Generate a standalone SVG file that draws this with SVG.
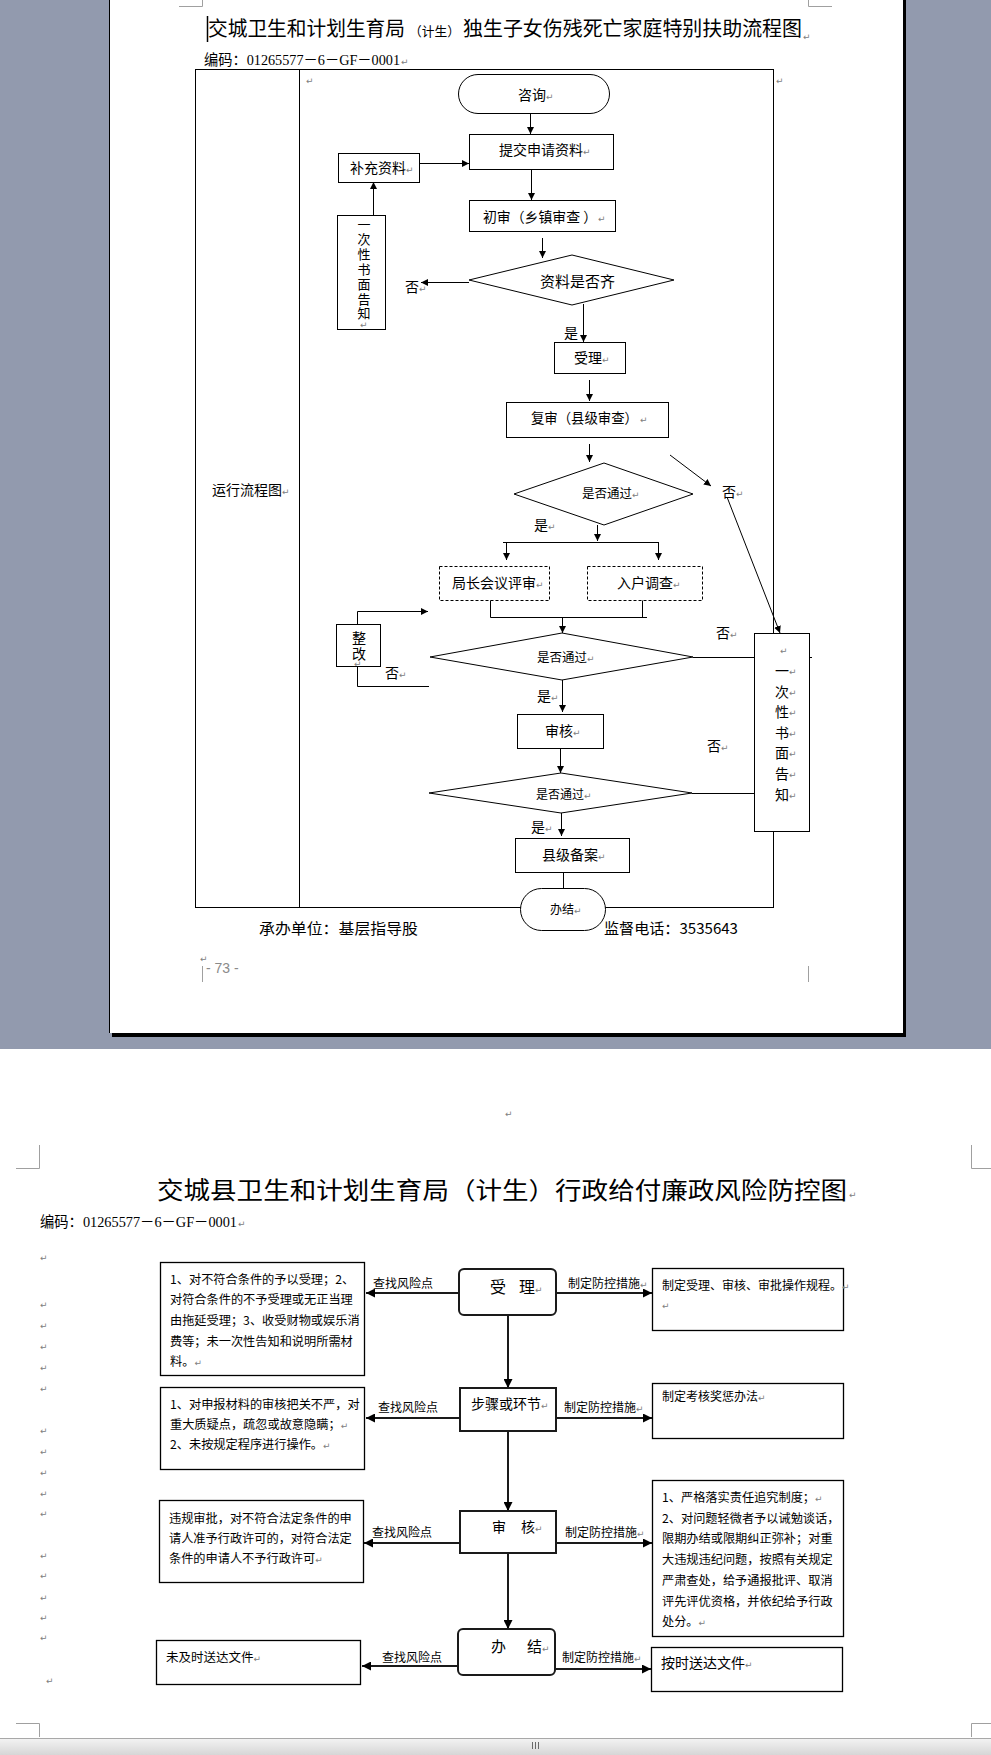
<svg xmlns="http://www.w3.org/2000/svg" width="991" height="1755" viewBox="0 0 991 1755">
<defs>
<style>
.c{font-family:"Noto Sans CJK SC","Liberation Sans",sans-serif;fill:#000}
.s{font-family:"Liberation Serif","Noto Sans CJK SC",serif;fill:#000}
.f14{font-size:14px}.f12{font-size:12px}.f125{font-size:12.5px}.f15{font-size:15px}.f122{font-size:12.2px}
.v{writing-mode:vertical-rl;text-orientation:upright}
.pm{font-family:"DejaVu Sans",sans-serif;font-size:9px;fill:#808080}
.ln{stroke:#000;stroke-width:1;fill:none}
.bx{stroke:#000;stroke-width:1;fill:#fff}
.dbx{stroke:#000;stroke-width:1;fill:#fff;stroke-dasharray:3 2}
.bx2{stroke:#000;stroke-width:1.3;fill:#fff}
.nd{stroke:#1a1a1a;stroke-width:2;fill:#fff}
.ln2{stroke:#1a1a1a;stroke-width:2;fill:none}
.cm{stroke:#a0a0a0;stroke-width:1;fill:none}
</style>
<marker id="a1" viewBox="0 0 8 8" refX="8" refY="4" markerWidth="7" markerHeight="7" markerUnits="userSpaceOnUse" orient="auto"><path d="M0,0 L8,4 L0,8 z" fill="#000"/></marker>
<marker id="a2" viewBox="0 0 8 8" refX="8" refY="4" markerWidth="9" markerHeight="9" markerUnits="userSpaceOnUse" orient="auto"><path d="M0,0 L8,4 L0,8 z" fill="#000"/></marker>
<linearGradient id="sb" x1="0" y1="0" x2="0" y2="1"><stop offset="0" stop-color="#f4f4f4"/><stop offset="1" stop-color="#d6d6d6"/></linearGradient>
</defs>

<!-- background -->
<rect x="0" y="0" width="991" height="1755" fill="#fff"/>
<rect x="0" y="0" width="991" height="1049" fill="#929aae"/>
<rect x="112" y="0" width="794" height="1037" fill="#000"/>
<rect x="109" y="0" width="794" height="1033" fill="#fff"/>
<line x1="109.5" y1="0" x2="109.5" y2="1033" stroke="#000" stroke-width="1"/>

<!-- page 1 -->
<g id="page1-header">
<polyline class="cm" points="179,6.5 202.5,6.5 202.5,0"/>
<polyline class="cm" points="832,6.5 808.5,6.5 808.5,0"/>
<line x1="207.5" y1="16" x2="207.5" y2="42" stroke="#000" stroke-width="1.5"/>
<text class="c" y="36"><tspan x="208" font-size="20" textLength="197" lengthAdjust="spacingAndGlyphs">交城卫生和计划生育局</tspan><tspan x="409" font-size="13" textLength="51" lengthAdjust="spacingAndGlyphs">（计生）</tspan><tspan x="463" font-size="20" textLength="339" lengthAdjust="spacingAndGlyphs">独生子女伤残死亡家庭特别扶助流程图</tspan></text>
<text class="pm" x="803" y="40">↵</text>
<text class="s" x="204" y="65" font-size="14.5" textLength="196" lengthAdjust="spacingAndGlyphs">编码：01265577－6－GF－0001</text>
<text class="pm" x="401" y="65">↵</text>
</g>

<g id="table">
<rect x="195.5" y="69.5" width="578" height="838" class="ln"/>
<line x1="299.5" y1="69.5" x2="299.5" y2="907.5" class="ln"/>
<text class="pm" x="306" y="84">↵</text>
<text class="pm" x="776" y="84">↵</text>
<text class="c f14" x="212" y="495">运行流程图<tspan class="pm">↵</tspan></text>
</g>

<g id="connectors1">
<line class="ln" x1="530.5" y1="113" x2="530.5" y2="134" marker-end="url(#a1)"/>
<line class="ln" x1="419" y1="163.5" x2="469" y2="163.5" marker-end="url(#a1)"/>
<line class="ln" x1="531.5" y1="169" x2="531.5" y2="200" marker-end="url(#a1)"/>
<line class="ln" x1="542.5" y1="238" x2="542.5" y2="258" marker-end="url(#a1)"/>
<line class="ln" x1="469" y1="282.5" x2="421" y2="282.5" marker-end="url(#a1)"/>
<line class="ln" x1="373.5" y1="215" x2="373.5" y2="182" marker-end="url(#a1)"/>
<line class="ln" x1="583.5" y1="304" x2="583.5" y2="342" marker-end="url(#a1)"/>
<line class="ln" x1="589.5" y1="380" x2="589.5" y2="401" marker-end="url(#a1)"/>
<line class="ln" x1="589.5" y1="444" x2="589.5" y2="462" marker-end="url(#a1)"/>
<line class="ln" x1="670" y1="455" x2="711" y2="486" marker-end="url(#a1)"/>
<line class="ln" x1="727" y1="497" x2="780" y2="633" marker-end="url(#a1)"/>
<line class="ln" x1="597.5" y1="525" x2="597.5" y2="541" marker-end="url(#a1)"/>
<line class="ln" x1="503" y1="542.5" x2="659" y2="542.5"/>
<line class="ln" x1="506.5" y1="542" x2="506.5" y2="560" marker-end="url(#a1)"/>
<line class="ln" x1="658.5" y1="542" x2="658.5" y2="560" marker-end="url(#a1)"/>
<polyline class="ln" points="490.5,600 490.5,617.5 647,617.5"/>
<line class="ln" x1="642.5" y1="600" x2="642.5" y2="617"/>
<line class="ln" x1="562.5" y1="617" x2="562.5" y2="633" marker-end="url(#a1)"/>
<polyline class="ln" points="357.5,624 357.5,611.5 428,611.5" marker-end="url(#a1)"/>
<polyline class="ln" points="429,686.5 357.5,686.5 357.5,666"/>
<line class="ln" x1="562.5" y1="680" x2="562.5" y2="712" marker-end="url(#a1)"/>
<line class="ln" x1="693" y1="657.5" x2="754" y2="657.5"/>
<line class="ln" x1="809" y1="657.5" x2="812" y2="657.5"/>
<line class="ln" x1="560.5" y1="748" x2="560.5" y2="773" marker-end="url(#a1)"/>
<line class="ln" x1="692" y1="793.5" x2="754" y2="793.5"/>
<line class="ln" x1="561.5" y1="813" x2="561.5" y2="836" marker-end="url(#a1)"/>
<line class="ln" x1="563.5" y1="872" x2="563.5" y2="888"/>
</g>

<g id="n-zixun"><rect class="bx" x="458.5" y="74.5" width="151" height="39" rx="19.5"/><text class="c f14" x="518" y="100">咨询<tspan class="pm">↵</tspan></text></g>
<g id="n-tijiao"><rect class="bx" x="469.5" y="134.5" width="144" height="35"/><text class="c f14" x="499" y="155">提交申请资料<tspan class="pm">↵</tspan></text></g>
<g id="n-buchong"><rect class="bx" x="338.5" y="153.5" width="81" height="29"/><text class="c f14" x="350" y="173">补充资料<tspan class="pm">↵</tspan></text></g>
<g id="n-chushen"><rect class="bx" x="469.5" y="200.5" width="146" height="31"/><text class="c f14" x="483" y="222" textLength="114" lengthAdjust="spacingAndGlyphs">初审（乡镇审查 ）</text><text class="pm" x="598" y="222">↵</text></g>
<g id="n-ziliao"><polygon class="bx" points="469,280 572,255 674,280 572,305"/><text class="c f15" x="540" y="287">资料是否齐</text><text class="c f14" x="405" y="292">否<tspan class="pm">↵</tspan></text></g>
<g id="n-gaozhi1"><rect class="bx" x="337.5" y="215.5" width="48" height="114"/>
<text class="c v" font-size="13" x="364" y="218" textLength="102" lengthAdjust="spacing">一次性书面告知</text><text class="pm" x="360" y="328">↵</text></g>
<g id="n-shouli"><text class="c f14" x="564" y="338">是</text><rect class="bx" x="554.5" y="342.5" width="71" height="31"/><text class="c f14" x="574" y="363">受理<tspan class="pm">↵</tspan></text></g>
<g id="n-fushen"><rect class="bx" x="506.5" y="402.5" width="162" height="35"/><text class="c f14" x="531" y="423" textLength="107" lengthAdjust="spacingAndGlyphs">复审（县级审查）</text><text class="pm" x="640" y="423">↵</text></g>
<g id="n-tongguo1"><polygon class="bx" points="514,494 604,463 693,494 604,525"/><text class="c f125" x="582" y="498">是否通过<tspan class="pm">↵</tspan></text><text class="c f14" x="722" y="497">否<tspan class="pm">↵</tspan></text><text class="c f14" x="534" y="530">是<tspan class="pm">↵</tspan></text></g>
<g id="n-juzhang"><rect class="dbx" x="439.5" y="566.5" width="110" height="34"/><text class="c f14" x="452" y="588">局长会议评审<tspan class="pm">↵</tspan></text></g>
<g id="n-ruhu"><rect class="dbx" x="587.5" y="566.5" width="115" height="34"/><text class="c f14" x="617" y="588">入户调查<tspan class="pm">↵</tspan></text></g>
<g id="n-zhenggai"><rect class="bx" x="336.5" y="624.5" width="44" height="42"/><text class="c v" font-size="14" x="359" y="631" textLength="30" lengthAdjust="spacing">整改</text><text class="pm" x="354" y="667">↵</text><text class="c f14" x="385" y="678">否<tspan class="pm">↵</tspan></text></g>
<g id="n-tongguo2"><polygon class="bx" points="430,657 562,633 693,657 562,680"/><text class="c f125" x="537" y="662">是否通过<tspan class="pm">↵</tspan></text><text class="c f14" x="716" y="638">否<tspan class="pm">↵</tspan></text><text class="c f14" x="537" y="701">是<tspan class="pm">↵</tspan></text></g>
<g id="n-shenhe"><rect class="bx" x="517.5" y="714.5" width="86" height="34"/><text class="c f14" x="545" y="736">审核<tspan class="pm">↵</tspan></text><text class="c f14" x="707" y="751">否<tspan class="pm">↵</tspan></text></g>
<g id="n-tongguo3"><polygon class="bx" points="429,793 561,773 692,793 561,813"/><text class="c f12" x="536" y="799">是否通过<tspan class="pm">↵</tspan></text><text class="c f14" x="531" y="832">是<tspan class="pm">↵</tspan></text></g>
<g id="n-gaozhi2"><rect class="bx" x="754.5" y="633.5" width="55" height="198"/><text class="pm" x="780" y="654">↵</text>
<text class="c f14" text-anchor="middle"><tspan x="782" y="676">一</tspan><tspan x="782" y="697">次</tspan><tspan x="782" y="717">性</tspan><tspan x="782" y="738">书</tspan><tspan x="782" y="758">面</tspan><tspan x="782" y="779">告</tspan><tspan x="782" y="800">知</tspan></text>
<text class="pm"><tspan x="789" y="675">↵</tspan><tspan x="789" y="696">↵</tspan><tspan x="789" y="716">↵</tspan><tspan x="789" y="737">↵</tspan><tspan x="789" y="757">↵</tspan><tspan x="789" y="778">↵</tspan><tspan x="789" y="799">↵</tspan></text></g>
<g id="n-beian"><rect class="bx" x="515.5" y="838.5" width="114" height="34"/><text class="c f14" x="542" y="860">县级备案<tspan class="pm">↵</tspan></text></g>
<g id="n-banjie1"><rect class="bx" x="520.5" y="888.5" width="85" height="42" rx="21"/><text class="c f12" x="550" y="914">办结<tspan class="pm">↵</tspan></text></g>

<g id="page1-footer">
<text class="c f15" x="259" y="934" textLength="159" lengthAdjust="spacingAndGlyphs">承办单位：基层指导股</text>
<text class="c f15" x="604" y="934" textLength="134" lengthAdjust="spacingAndGlyphs">监督电话：3535643</text>
<text class="pm" x="200" y="962">↵</text>
<line class="cm" x1="202.5" y1="966" x2="202.5" y2="982"/>
<line class="cm" x1="808.5" y1="966" x2="808.5" y2="982"/>
<text x="206" y="973" font-family="Liberation Sans,sans-serif" font-size="14" fill="#8a8a8a">- 73 -</text>
</g>

<!-- page 2 -->
<g id="page2-header">
<polyline class="cm" points="16,1168.5 39.5,1168.5 39.5,1145"/>
<polyline class="cm" points="991,1168.5 971.5,1168.5 971.5,1145"/>
<text class="pm" x="505" y="1117">↵</text>
<text class="c" x="157" y="1199" font-size="24" textLength="690" lengthAdjust="spacingAndGlyphs">交城县卫生和计划生育局（计生）行政给付廉政风险防控图</text>
<text class="pm" x="849" y="1198">↵</text>
<text class="s" x="40" y="1227" font-size="14.5" textLength="197" lengthAdjust="spacingAndGlyphs">编码：01265577－6－GF－0001</text>
<text class="pm" x="238" y="1227">↵</text>
<text class="pm"><tspan x="40" y="1261">↵</tspan><tspan x="40" y="1308">↵</tspan><tspan x="40" y="1329">↵</tspan><tspan x="40" y="1350">↵</tspan><tspan x="40" y="1371">↵</tspan><tspan x="40" y="1392">↵</tspan><tspan x="40" y="1434">↵</tspan><tspan x="40" y="1455">↵</tspan><tspan x="40" y="1476">↵</tspan><tspan x="40" y="1497">↵</tspan><tspan x="40" y="1517">↵</tspan><tspan x="40" y="1559">↵</tspan><tspan x="40" y="1579">↵</tspan><tspan x="40" y="1601">↵</tspan><tspan x="40" y="1621">↵</tspan><tspan x="40" y="1641">↵</tspan><tspan x="46" y="1684">↵</tspan></text>
</g>

<g id="connectors2">
<line class="ln2" x1="508" y1="1315" x2="508" y2="1388" marker-end="url(#a2)"/>
<line class="ln2" x1="508" y1="1431" x2="508" y2="1511" marker-end="url(#a2)"/>
<line class="ln2" x1="508" y1="1553" x2="508" y2="1629" marker-end="url(#a2)"/>
<line class="ln2" x1="459" y1="1293" x2="366" y2="1293" marker-end="url(#a2)"/>
<line class="ln2" x1="460" y1="1418" x2="366" y2="1418" marker-end="url(#a2)"/>
<line class="ln2" x1="460" y1="1543" x2="364" y2="1543" marker-end="url(#a2)"/>
<line class="ln2" x1="458" y1="1666" x2="362" y2="1666" marker-end="url(#a2)"/>
<line class="ln2" x1="556" y1="1293" x2="652" y2="1293" marker-end="url(#a2)"/>
<line class="ln2" x1="556" y1="1418" x2="652" y2="1418" marker-end="url(#a2)"/>
<line class="ln2" x1="556" y1="1543" x2="652" y2="1543" marker-end="url(#a2)"/>
<line class="ln2" x1="555" y1="1669" x2="651" y2="1669" marker-end="url(#a2)"/>
<g class="c f12">
<text x="373" y="1288">查找风险点</text>
<text x="378" y="1412">查找风险点</text>
<text x="372" y="1537">查找风险点</text>
<text x="382" y="1662">查找风险点</text>
<text x="568" y="1288">制定防控措施<tspan class="pm">↵</tspan></text>
<text x="564" y="1412">制定防控措施<tspan class="pm">↵</tspan></text>
<text x="565" y="1537">制定防控措施<tspan class="pm">↵</tspan></text>
<text x="562" y="1662">制定防控措施<tspan class="pm">↵</tspan></text>
</g>
</g>

<g id="r-shouli"><rect class="nd" x="459" y="1269" width="97" height="46" rx="5"/><text class="c" font-size="16" y="1293"><tspan x="490">受</tspan><tspan x="519">理</tspan><tspan class="pm">↵</tspan></text></g>
<g id="r-buzhou"><rect class="nd" x="460" y="1388" width="96" height="43"/><text class="c f14" x="471" y="1409">步骤或环节<tspan class="pm">↵</tspan></text></g>
<g id="r-shenhe"><rect class="nd" x="460" y="1511" width="96" height="42"/><text class="c f14" y="1532"><tspan x="492">审</tspan><tspan x="521">核</tspan><tspan class="pm">↵</tspan></text></g>
<g id="r-banjie"><rect class="nd" x="458" y="1629" width="97" height="46" rx="5"/><text class="c f15" y="1652"><tspan x="491">办</tspan><tspan x="527">结</tspan><tspan class="pm">↵</tspan></text></g>

<g id="risk1"><rect class="bx2" x="160.5" y="1262.5" width="204" height="113"/>
<text class="c f122"><tspan x="170" y="1284">1、对不符合条件的予以受理；2、</tspan><tspan x="170" y="1304">对符合条件的不予受理或无正当理</tspan><tspan x="170" y="1325">由拖延受理；3、收受财物或娱乐消</tspan><tspan x="170" y="1346">费等；未一次性告知和说明所需材</tspan><tspan x="170" y="1366">料。<tspan class="pm">↵</tspan></tspan></text></g>
<g id="risk2"><rect class="bx2" x="160.5" y="1387.5" width="204" height="82"/>
<text class="c f122"><tspan x="170" y="1409">1、对申报材料的审核把关不严，对</tspan><tspan x="170" y="1429">重大质疑点，疏忽或故意隐瞒；<tspan class="pm">↵</tspan></tspan><tspan x="170" y="1449">2、未按规定程序进行操作。<tspan class="pm">↵</tspan></tspan></text></g>
<g id="risk3"><rect class="bx2" x="159.5" y="1500.5" width="204" height="82"/>
<text class="c f122"><tspan x="169" y="1523">违规审批，对不符合法定条件的申</tspan><tspan x="169" y="1543">请人准予行政许可的，对符合法定</tspan><tspan x="169" y="1563">条件的申请人不予行政许可<tspan class="pm">↵</tspan></tspan></text></g>
<g id="risk4"><rect class="bx2" x="156.5" y="1640.5" width="204" height="44"/><text class="c" font-size="12.5" x="166" y="1662">未及时送达文件<tspan class="pm">↵</tspan></text></g>

<g id="ctrl1"><rect class="bx2" x="652.5" y="1268.5" width="191" height="62"/><text class="c f12" x="662" y="1290">制定受理、审核、审批操作规程。<tspan class="pm">↵</tspan></text><text class="pm" x="662" y="1309">↵</text></g>
<g id="ctrl2"><rect class="bx2" x="652.5" y="1383.5" width="191" height="55"/><text class="c f12" x="662" y="1401">制定考核奖惩办法<tspan class="pm">↵</tspan></text></g>
<g id="ctrl3"><rect class="bx2" x="652.5" y="1480.5" width="191" height="156"/>
<text class="c f122"><tspan x="662" y="1502">1、严格落实责任追究制度；<tspan class="pm">↵</tspan></tspan><tspan x="662" y="1523">2、对问题轻微者予以诫勉谈话，</tspan><tspan x="662" y="1543">限期办结或限期纠正弥补；对重</tspan><tspan x="662" y="1564">大违规违纪问题，按照有关规定</tspan><tspan x="662" y="1585">严肃查处，给予通报批评、取消</tspan><tspan x="662" y="1606">评先评优资格，并依纪给予行政</tspan><tspan x="662" y="1626">处分。<tspan class="pm">↵</tspan></tspan></text></g>
<g id="ctrl4"><rect class="bx2" x="651.5" y="1647.5" width="191" height="44"/><text class="c f14" x="661" y="1668">按时送达文件<tspan class="pm">↵</tspan></text></g>

<g id="page2-footer">
<polyline class="cm" points="16,1723.5 39.5,1723.5 39.5,1737"/>
<polyline class="cm" points="991,1723.5 971.5,1723.5 971.5,1737"/>
<rect x="0" y="1738" width="991" height="17" fill="url(#sb)"/>
<line x1="0" y1="1738.5" x2="991" y2="1738.5" stroke="#a8a8a8" stroke-width="1"/>
<g stroke="#6a6a6a" stroke-width="1"><line x1="532.5" y1="1742" x2="532.5" y2="1749"/><line x1="535.5" y1="1742" x2="535.5" y2="1749"/><line x1="538.5" y1="1742" x2="538.5" y2="1749"/></g>
</g>
</svg>
